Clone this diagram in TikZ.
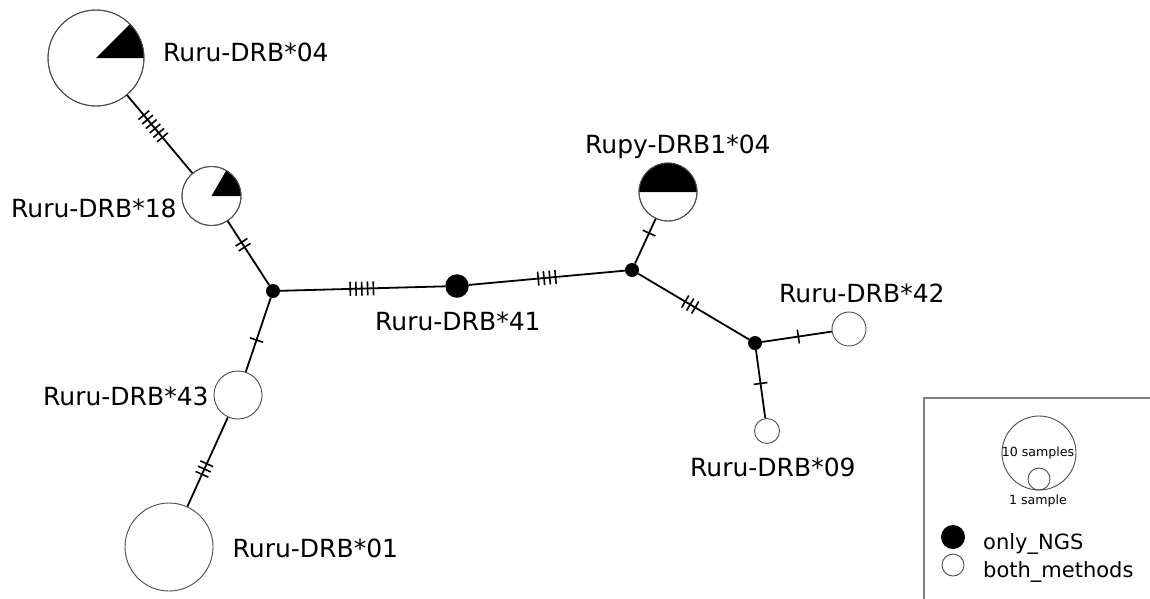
\documentclass[tikz,border=0pt]{standalone}
\usepackage{fontspec}
\setmainfont{DejaVu Sans}
\usetikzlibrary{decorations.markings}
\tikzset{
  edge/.style={line width=1.8pt, black},
  outl/.style={draw=black!70, line width=0.9pt},
  hap/.style={circle, outl, fill=white, inner sep=0pt, minimum size=#1},
  med/.style={circle, fill=black, inner sep=0pt, minimum size=#1},
  lbl/.style={font=\fontsize{25}{30}\selectfont, inner sep=0pt, anchor=base west},
  leg/.style={font=\fontsize{21}{25}\selectfont, inner sep=0pt, anchor=base west},
  small/.style={font=\fontsize{12.6}{14}\selectfont, inner sep=0pt},
  ticks/.style 2 args={postaction={decorate, decoration={markings,
      mark=at position #1 with {\foreach \k in {1,...,#2}{\draw[line width=1.6pt] ({(\k-(#2+1)/2)*5.8pt},-7pt) -- ++(0pt,14pt);}}}}},
}
\begin{document}
\begin{tikzpicture}[x=1pt,y=-1pt]
\useasboundingbox (0,0) rectangle (1150,598);
\fill[white] (0,0) rectangle (1150,598);
% haplotype nodes
\node[hap=96pt] (h04) at (96,58) {};
\node[hap=59pt] (h18) at (211.5,196) {};
\node[hap=48pt] (h43) at (238,395) {};
\node[hap=88pt] (h01) at (169,547) {};
\node[med=23.5pt] (h41) at (457,286) {};
\node[hap=58pt] (hR) at (668,192) {};
\node[hap=34pt] (h42) at (849,329) {};
\node[hap=25pt] (h09) at (767,431) {};
% median vectors
\node[med=14pt] (j1) at (273,291) {};
\node[med=14pt] (j2) at (632,270) {};
\node[med=14pt] (j3) at (755,343) {};
% pie parts
\fill (h04.center) -- ++(48,0) arc[start angle=0, end angle=-45, radius=48] -- cycle;
\draw[outl] (h04.center) circle[radius=48];
\fill (h18.center) -- ++(29.5,0) arc[start angle=0, end angle=-60, radius=29.5] -- cycle;
\draw[outl] (h18.center) circle[radius=29.5];
\fill (hR.center) ++(-29,0) arc[start angle=180, end angle=360, radius=29] -- cycle;
\draw[outl] (hR.center) circle[radius=29];
% edges
\draw[edge, ticks={0.40}{6}] (h04) -- (h18);
\draw[edge, ticks={0.37}{2}] (h18) -- (j1);
\draw[edge, ticks={0.57}{1}] (j1) -- (h43);
\draw[edge, ticks={0.58}{3}] (h43) -- (h01);
\draw[edge, ticks={0.495}{5}] (j1) -- (h41);
\draw[edge, ticks={0.50}{4}] (h41) -- (j2);
\draw[edge, ticks={0.68}{1}] (j2) -- (hR);
\draw[edge, ticks={0.47}{3}] (j2) -- (j3);
\draw[edge, ticks={0.52}{1}] (j3) -- (h42);
\draw[edge, ticks={0.49}{1}] (j3) -- (h09);
% labels
\node[lbl] (t04) at (163,61) {Ruru-DRB*04};
\node[lbl] (t18) at (11,217) {Ruru-DRB*18};
\node[lbl] (tR) at (585,153) {Rupy-DRB1*04};
\node[lbl] (t41) at (375,330) {Ruru-DRB*41};
\node[lbl] (t43) at (43,405) {Ruru-DRB*43};
\node[lbl] (t01) at (232.5,557) {Ruru-DRB*01};
\node[lbl] (t42) at (779,302) {Ruru-DRB*42};
\node[lbl] (t09) at (690,476) {Ruru-DRB*09};
% legend
\draw[gray, line width=1.3pt] (1160,398) -- (924,398) -- (924,610);
\node[circle, outl, inner sep=0pt, minimum size=74pt] (l10) at (1039,453) {};
\node[circle, outl, inner sep=0pt, minimum size=22pt] (l1) at (1039,479) {};
\node[small] (t10) at (1038,453) {10 samples};
\node[small] (t1) at (1038,501) {1 sample};
\node[med=24pt] (lngs) at (953,537) {};
\node[hap=22pt] (lboth) at (953,565) {};
\node[leg] (tngs) at (983,549) {only\_NGS};
\node[leg] (tboth) at (983,577) {both\_methods};
\end{tikzpicture}
\end{document}
